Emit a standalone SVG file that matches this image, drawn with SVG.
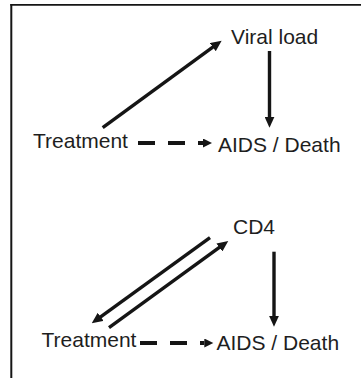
<svg xmlns="http://www.w3.org/2000/svg" width="361" height="378" viewBox="0 0 361 378">
<style>
  .lbl { font-family: "Liberation Sans", Arial, Helvetica, sans-serif; font-size: 21px; fill: #1e1e1e; }
  .solid { stroke: #151515; stroke-width: 3.4; fill: none; marker-end: url(#head); }
  .dash { stroke: #151515; stroke-width: 4.2; fill: none; stroke-dasharray: 17 13; marker-end: url(#dhead); }
  .frame { stroke: #151515; fill: none; }
</style>
<defs>
  <marker id="head" markerUnits="userSpaceOnUse" markerWidth="11" markerHeight="10" refX="3" refY="5" orient="auto">
    <path d="M0,0 L11,5 L0,10 z" fill="#151515"/>
  </marker>
  <marker id="dhead" markerUnits="userSpaceOnUse" markerWidth="10" markerHeight="9" refX="0" refY="4.5" orient="auto">
    <path d="M0,0 L9,4.5 L0,9 z" fill="#151515"/>
  </marker>
</defs>
<g id="frame">
  <line class="frame" x1="11.3" y1="4" x2="11.3" y2="378" stroke-width="2"/>
  <line class="frame" x1="10.3" y1="4.8" x2="361" y2="4.8" stroke-width="1.7"/>
</g>
<g id="connectors">
  <line class="solid" x1="102.7" y1="127.7" x2="215.2" y2="45.4"/>
  <line class="solid" x1="269.5" y1="51" x2="269.5" y2="119.7"/>
  <line class="dash" x1="138" y1="143" x2="203" y2="143"/>
  <line class="solid" x1="210" y1="237.7" x2="98.2" y2="318.6"/>
  <line class="solid" x1="109" y1="327.7" x2="221.8" y2="245.7"/>
  <line class="solid" x1="274" y1="251.7" x2="274" y2="318.7"/>
  <line class="dash" x1="140" y1="343" x2="204.3" y2="343"/>
</g>
<g id="viral-load"><text class="lbl" x="231" y="43.5">Viral load</text></g>
<g id="treatment-1"><text class="lbl" x="33" y="147.5">Treatment</text></g>
<g id="aids-death-1"><text class="lbl" x="218" y="152">AIDS / Death</text></g>
<g id="cd4"><text class="lbl" x="233" y="233.5">CD4</text></g>
<g id="treatment-2"><text class="lbl" x="41.5" y="346.5">Treatment</text></g>
<g id="aids-death-2"><text class="lbl" x="216.5" y="350">AIDS / Death</text></g>
</svg>
